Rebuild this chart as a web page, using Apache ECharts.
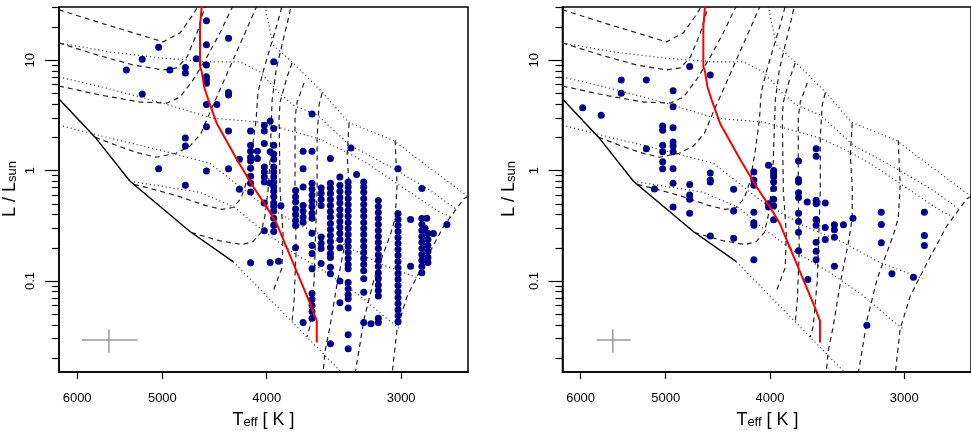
<!DOCTYPE html>
<html><head><meta charset="utf-8">
<script src="https://cdn.jsdelivr.net/npm/echarts@6/dist/echarts.min.js"></script>
<style>html,body{margin:0;padding:0;background:#fff}#c{width:971px;height:436px}</style>
</head><body><div id="c"></div>
<script>
// ---------- tick values ----------
const xTickValues = [6000, 5000, 4000, 3000];
const yMajorTicks = [0.1, 1, 10];
const yMajorLabels = ['0.1', '1', '10'];
const yMinorTicks = [0.02,0.03,0.04,0.05,0.06,0.07,0.08,0.09,0.2,0.3,0.4,0.5,0.6,0.7,0.8,0.9,2,3,4,5,6,7,8,9,20,30];

// ---------- model lines: [log Teff, log L/Lsun] ----------
const zams = [[3.795,0.648],[3.7615,0.303],[3.729,-0.097],[3.6733,-0.552],[3.6333,-0.825]];
const redTrack = [[3.6624,1.49],[3.664,1.305],[3.664,0.942],[3.6624,0.896],[3.6602,0.76],[3.6562,0.639],[3.6484,0.427],[3.6293,0.094],[3.6144,-0.149],[3.602,-0.331],[3.5927,-0.482],[3.5602,-1.24],[3.5555,-1.361],[3.5555,-1.558]];

const trackD1 = [[3.795,1.457],[3.7569,1.339],[3.7197,1.23],[3.6983,1.166],[3.6825,1.248],[3.6705,1.412],[3.6658,1.49]];
const trackD2 = [[3.795,1.157],[3.7597,1.048],[3.7262,0.957],[3.6983,0.912],[3.6853,0.93],[3.676,1.03],[3.6667,1.248],[3.6612,1.43],[3.6584,1.49]];
const trackD3 = [[3.795,0.766],[3.7569,0.685],[3.7197,0.621],[3.6946,0.612],[3.6825,0.666],[3.6705,0.821],[3.6575,1.03],[3.6454,1.248],[3.6361,1.439],[3.6333,1.49]];
const trackD4 = [[3.7615,0.303],[3.742,0.23],[3.7234,0.166],[3.7049,0.121],[3.6863,0.157],[3.6733,0.221],[3.663,0.339],[3.6547,0.53],[3.6435,0.775],[3.6333,1.003],[3.6221,1.248],[3.6128,1.457],[3.611,1.49]];
const trackD5 = [[3.7253,-0.125],[3.7141,-0.152],[3.6863,-0.225],[3.6593,-0.315],[3.6435,-0.352],[3.6333,-0.334],[3.6259,-0.252],[3.6203,-0.088],[3.6156,0.185],[3.6119,0.457],[3.6101,0.712],[3.6054,0.894],[3.5989,1.112],[3.5924,1.321],[3.5878,1.49]];
const trackD6 = [[3.6723,-0.561],[3.6463,-0.634],[3.6249,-0.67],[3.6147,-0.643],[3.6073,-0.561],[3.6036,-0.406],[3.6008,-0.179],[3.5989,0.094],[3.598,0.366],[3.597,0.639],[3.5933,0.912],[3.5878,1.139],[3.5822,1.366],[3.5794,1.49]];
const trackH1 = [[3.5785,0.975],[3.5831,0.848],[3.5896,0.621],[3.5905,0.475],[3.5896,-0.179],[3.5868,-0.57],[3.5878,-0.879],[3.5961,-1.094]];
const trackH2 = [[3.5673,0.794],[3.5738,0.621],[3.5757,0.475],[3.5757,-0.179],[3.5747,-0.725],[3.5766,-1.179],[3.5785,-1.37]];
const trackH3 = [[3.5506,0.703],[3.5534,0.594],[3.5552,0.294],[3.5552,-0.179],[3.558,-0.997],[3.5617,-1.406],[3.5645,-1.506]];
const trackH4 = [[3.5255,0.43],[3.5273,0.139],[3.5255,-0.134],[3.5255,-0.433],[3.5292,-0.661],[3.5366,-1.021],[3.5431,-1.406],[3.5478,-1.634],[3.5497,-1.84]];
const trackH5 = [[3.4827,0.275],[3.4809,-0.134],[3.4827,-0.433],[3.4874,-0.588],[3.5022,-0.979],[3.5115,-1.343],[3.5199,-1.84]];
const trackT1 = [[3.4149,-0.234],[3.4186,-0.252],[3.4372,-0.497],[3.4558,-0.834],[3.4716,-1.139],[3.4809,-1.434],[3.4855,-1.84]];

const isoI0 = [[3.6036,1.49],[3.5961,1.139],[3.5775,0.975],[3.5497,0.703],[3.5264,0.439],[3.4846,0.275],[3.4502,0.021],[3.4149,-0.234]];
const isoI1 = [[3.795,1.157],[3.7476,1.075],[3.7011,1.021],[3.6547,0.985],[3.6268,0.985],[3.6082,0.894],[3.5915,0.712],[3.5775,0.594],[3.5552,0.503],[3.5246,0.23],[3.4846,0.021],[3.4502,-0.179],[3.427,-0.343]];
const isoI2 = [[3.795,0.848],[3.7513,0.748],[3.7021,0.621],[3.6528,0.475],[3.6082,0.439],[3.5552,0.294],[3.5273,0.166],[3.506,0.048],[3.4716,-0.179],[3.4409,-0.379],[3.4316,-0.415]];
const isoI3 = [[3.795,0.412],[3.7476,0.294],[3.7011,0.185],[3.6547,0.066],[3.6082,-0.288],[3.571,-0.497],[3.5338,-0.652],[3.4995,-0.834],[3.4595,-0.979]];
const isoI4 = [[3.729,-0.097],[3.664,-0.197],[3.6314,-0.334],[3.6082,-0.525],[3.5775,-0.743],[3.546,-0.925],[3.5153,-1.134],[3.4902,-1.343],[3.4781,-1.434]];
const isoI5 = [[3.6333,-0.825],[3.5338,-1.815]];

// ---------- typical error bar: [Teff, L] ----------
const errLeftCenter = [5605, 0.0292];
const errLeftT = [5940, 5270];
const errRightCenter = [5600, 0.0292];
const errRightT = [5800, 5390];
const errL = [0.0366, 0.0224];

// ---------- stars: [Teff (K), L/Lsun] ----------
const starsLeft = [
[4550,22.8],[4340,15.8],[5040,13.1],[4550,13.8],[4650,10.3],[5220,10.2],[5400,8.16],[4920,8.16],[4760,8.57],[4760,7.67],
[4550,9.06],[4550,7.1],[4550,6.62],[4550,6.18],[3940,9.7],[4340,5.1],[4340,4.84],[5220,4.94],[4550,3.98],[4450,3.98],
[4550,2.49],[4340,2.28],[4760,1.97],[4760,1.67],[3630,3.25],[5040,1.04],[4550,0.99],[4340,1.04],[4760,0.735],[4240,0.676],[4240,1.27],
[4140,2.28],[4140,1.7],[4140,1.5],[4140,1.32],[4140,1.22],[4140,1.05],[4140,0.89],[4140,0.77],[4140,0.64],[4140,0.146],
[4080,1.5],[4080,1.29],
[4020,2.58],[4020,2.28],[4020,1.76],[4020,1.08],[4020,0.97],[4020,0.875],[4020,0.79],[4020,0.51],[4020,0.285],
[3970,2.81],[3970,1.48],[3970,0.77],[3970,0.147],
[3940,2.41],[3940,1.7],[3940,1.41],[3940,1.27],[3940,1.08],[3940,0.97],[3940,0.875],[3940,0.79],[3940,0.71],[3940,0.65],[3940,0.58],[3940,0.51],[3940,0.475],[3940,0.43],[3940,0.37],[3940,0.32],[3940,0.28],
[3900,0.151],[3880,0.48],
[3760,0.66],[3760,0.58],[3760,0.52],[3760,0.45],[3760,0.4],[3760,0.353],[3760,0.318],[3760,0.2],
[3700,1.5],[3700,1.04],[3700,0.71],[3700,0.484],[3700,0.43],[3700,0.38],[3700,0.34],[3700,0.042],
[3630,1.5],[3630,0.77],[3630,0.68],[3630,0.6],[3630,0.53],[3630,0.47],[3630,0.41],[3630,0.37],[3630,0.27],[3630,0.21],[3630,0.177],[3630,0.129],[3630,0.077],[3630,0.068],[3630,0.06],[3630,0.053],[3630,0.046],
[3560,0.695],[3560,0.62],[3560,0.55],[3560,0.484],[3560,0.25],[3560,0.22],[3560,0.197],[3560,0.144],
[3490,1.29],[3490,0.77],[3490,0.695],[3490,0.62],[3490,0.548],[3490,0.484],[3490,0.427],[3490,0.377],[3490,0.332],[3490,0.293],[3490,0.258],[3490,0.228],[3490,0.201],[3490,0.177],[3490,0.163],[3490,0.133],[3490,0.116],[3490,0.027],
[3420,0.875],[3420,0.735],[3420,0.65],[3420,0.57],[3420,0.51],[3420,0.445],[3420,0.393],[3420,0.346],[3420,0.306],[3420,0.27],[3420,0.238],[3420,0.2],[3420,0.1],[3420,0.0635],
[3360,0.79],[3360,0.71],[3360,0.635],[3360,0.56],[3360,0.494],[3360,0.435],[3360,0.385],[3360,0.339],[3360,0.299],[3360,0.264],[3360,0.232],[3360,0.205],[3360,0.181],[3360,0.16],[3360,0.141],[3360,0.129],[3360,0.097],[3360,0.085],[3360,0.075],[3360,0.069],[3360,0.057],[3360,0.0325],[3360,0.0243],
[3340,1.6],[3300,0.92],
[3250,0.79],[3250,0.71],[3250,0.635],[3250,0.56],[3250,0.494],[3250,0.435],[3250,0.385],[3250,0.339],[3250,0.299],[3250,0.264],[3250,0.232],[3250,0.205],[3250,0.181],[3250,0.16],[3250,0.141],[3250,0.124],[3250,0.105],[3250,0.079],[3250,0.042],
[3200,0.041],
[3150,0.537],[3150,0.474],[3150,0.418],[3150,0.369],[3150,0.325],[3150,0.286],[3150,0.253],[3150,0.223],[3150,0.197],[3150,0.173],[3150,0.153],[3150,0.135],[3150,0.119],[3150,0.105],[3150,0.092],[3150,0.082],[3150,0.073],[3150,0.046],[3150,0.042],
[3020,1.04],[3020,0.409],[3020,0.361],[3020,0.318],[3020,0.281],[3020,0.248],[3020,0.218],[3020,0.193],[3020,0.17],[3020,0.15],[3020,0.132],[3020,0.116],[3020,0.103],[3020,0.091],[3020,0.08],[3020,0.0705],[3020,0.0622],[3020,0.0548],[3020,0.0484],[3020,0.0427],
[2940,0.36],[2940,0.136],
[2870,0.687],[2870,0.369],[2870,0.325],[2870,0.286],[2870,0.253],[2870,0.223],[2870,0.197],[2870,0.173],[2870,0.153],[2870,0.135],[2870,0.119],
[2840,0.37],[2850,0.3],
[2833,0.269],[2833,0.238],[2833,0.21],[2833,0.185],[2833,0.163],[2833,0.147],
[2800,0.269],[2720,0.325]
];
const starsRight = [
[4750,8.75],[4545,7.35],[5500,6.62],[5212,6.62],[4922,5.29],[5500,5.01],[4922,3.79],[5973,3.71],[5741,3.18],
[5033,2.53],[5033,2.32],[4922,2.44],[5212,1.58],[5033,1.7],[5033,1.48],[4922,1.82],[4922,1.67],[4922,1.48],[5033,1.2],[5033,1.04],[4922,1.04],[4922,0.77],[4750,0.75],
[4545,0.95],[4545,0.82],[4545,0.79],[5123,0.68],[4922,0.467],[4750,0.6],[4750,0.55],[4750,0.41],[4323,0.676],[4323,0.43],
[4140,0.97],[4140,0.82],[4140,0.735],[4140,0.42],[4012,1.12],[3968,1.0],[3968,0.94],[3968,0.88],[3968,0.79],[3968,0.69],[3968,0.55],[4012,0.5],[3968,0.48],
[3762,1.22],[3762,0.83],[3762,0.79],[3762,0.63],[3762,0.57],[3762,0.41],[3762,0.346],[3762,0.277],[3762,0.188],[3693,0.52],
[3623,1.58],[3623,1.35],[3623,0.54],[3623,0.5],[3553,0.51],[3348,0.37],[3151,0.42],[2873,0.42],
[3968,0.359],[4012,0.467],[3623,0.36],[3623,0.32],[3623,0.224],[3623,0.186],[3623,0.156],[3553,0.305],[3553,0.238],
[3484,0.323],[3484,0.291],[3484,0.249],[3484,0.136],[3417,0.323],[3688,0.103],[3250,0.0398],[3151,0.325],[3151,0.222],
[3080,0.116],[2941,0.108],[2873,0.258],[2873,0.21],[4545,0.255],[4323,0.244],[4140,0.337],[4140,0.32],[4140,0.156]
];

// ---------- build ----------
const lg = Math.log10;
const X_MIN = 3.415, X_MAX = 3.795, Y_MIN = -1.8245, Y_MAX = 1.482;
const FONT = 'Liberation Sans, Arial, Helvetica, sans-serif';
const grids = [
  {left: 59, top: 7, width: 409, height: 365, show: true, borderColor: '#000', borderWidth: 1.5, backgroundColor: 'transparent'},
  {left: 562.5, top: 7, width: 409, height: 365, show: true, borderColor: '#000', borderWidth: 1.5, backgroundColor: 'transparent'}
];
const xAxes = [], yAxes = [], series = [];
const tracks = [trackD1, trackD2, trackD3, trackD4, trackD5, trackD6, trackH1, trackH2, trackH3, trackH4, trackH5, trackT1];
const isochrones = [isoI0, isoI1, isoI2, isoI3, isoI4, isoI5];
const starSets = [starsLeft, starsRight];
const errCenters = [errLeftCenter, errRightCenter];
const errTs = [errLeftT, errRightT];

for (let g = 0; g < 2; g++) {
  xAxes.push({
    type: 'value', gridIndex: g, min: X_MIN, max: X_MAX, inverse: true, position: 'bottom',
    axisLine: {show: true, onZero: false, lineStyle: {color: '#000', width: 1.5}},
    axisTick: {show: true, inside: false, length: 7, customValues: xTickValues.map(lg), lineStyle: {color: '#000', width: 1.2}},
    axisLabel: {show: true, margin: 20, customValues: xTickValues.map(lg), fontFamily: FONT, fontSize: 13, color: '#000',
      formatter: v => String(Math.round(Math.pow(10, v) / 100) * 100)},
    splitLine: {show: false}
  });
  yAxes.push({
    type: 'value', gridIndex: g, min: Y_MIN, max: Y_MAX, position: 'left',
    axisLine: {show: true, onZero: false, lineStyle: {color: '#000', width: 1.5}},
    axisTick: {show: true, inside: false, length: 14, customValues: yMajorTicks.map(lg), lineStyle: {color: '#000', width: 1.2}},
    axisLabel: {show: true, rotate: 90, margin: 22, customValues: yMajorTicks.map(lg), fontFamily: FONT, fontSize: 13, color: '#000',
      formatter: v => { let best = 0; yMajorTicks.forEach((t, i) => { if (Math.abs(lg(t) - v) < Math.abs(lg(yMajorTicks[best]) - v)) best = i; }); return yMajorLabels[best]; }},
    splitLine: {show: false}
  });
  yAxes.push({
    type: 'value', gridIndex: g, min: Y_MIN, max: Y_MAX, position: 'left', offset: 0,
    axisLine: {show: false, onZero: false},
    axisTick: {show: true, inside: false, length: 7, customValues: yMinorTicks.map(lg), lineStyle: {color: '#000', width: 1.2}},
    axisLabel: {show: false},
    splitLine: {show: false}
  });
  const base = {xAxisIndex: g, yAxisIndex: 2 * g, symbol: 'none', showSymbol: false, silent: true, animation: false, clip: true};
  isochrones.forEach(d => series.push(Object.assign({type: 'line', data: d, z: 2,
    lineStyle: {color: '#222', width: 1.2, type: [1, 3]}}, base)));
  tracks.forEach(d => series.push(Object.assign({type: 'line', data: d, z: 3,
    lineStyle: {color: '#222', width: 1.2, type: [5, 4]}}, base)));
  series.push(Object.assign({type: 'line', data: zams, z: 4, lineStyle: {color: '#000', width: 1.4}}, base));
  const c = errCenters[g], t = errTs[g];
  series.push(Object.assign({type: 'line', data: [[lg(t[0]), lg(c[1])], [lg(t[1]), lg(c[1])]], z: 4, lineStyle: {color: '#999', width: 1.5}}, base));
  series.push(Object.assign({type: 'line', data: [[lg(c[0]), lg(errL[0])], [lg(c[0]), lg(errL[1])]], z: 4, lineStyle: {color: '#999', width: 1.5}}, base));
  series.push({type: 'scatter', xAxisIndex: g, yAxisIndex: 2 * g, silent: true, animation: false, z: 5,
    symbol: 'circle', symbolSize: 7, itemStyle: {color: '#00008B', opacity: 1},
    data: starSets[g].map(p => [lg(p[0]), lg(p[1])])});
  series.push(Object.assign({type: 'line', data: redTrack, z: 6, lineStyle: {color: '#ff0000', width: 2}}, base));
}

const richTitle = {
  a: {fontFamily: FONT, fontSize: 18, lineHeight: 22, verticalAlign: 'bottom', fill: '#000', color: '#000'},
  s: {fontFamily: FONT, fontSize: 13, lineHeight: 36, verticalAlign: 'bottom', fill: '#000', color: '#000'}
};
function xTitle(cx) {
  return {type: 'text', x: cx, y: 411, silent: true,
    style: {text: '{a|T}{s|eff}{a| [ K ]}', align: 'center', verticalAlign: 'middle', rich: richTitle}};
}
function yTitle(cx) {
  return {type: 'text', x: cx, y: 189, rotation: Math.PI / 2, silent: true,
    style: {text: '{a|L / L}{s|sun}', align: 'center', verticalAlign: 'middle', rich: richTitle}};
}

const chart = echarts.init(document.getElementById('c'), null, {renderer: 'canvas'});
chart.setOption({
  animation: false,
  backgroundColor: '#fff',
  grid: grids,
  xAxis: xAxes,
  yAxis: yAxes,
  series: series,
  graphic: [xTitle(263.5), xTitle(767.5), yTitle(1), yTitle(500)]
});
</script></body></html>
